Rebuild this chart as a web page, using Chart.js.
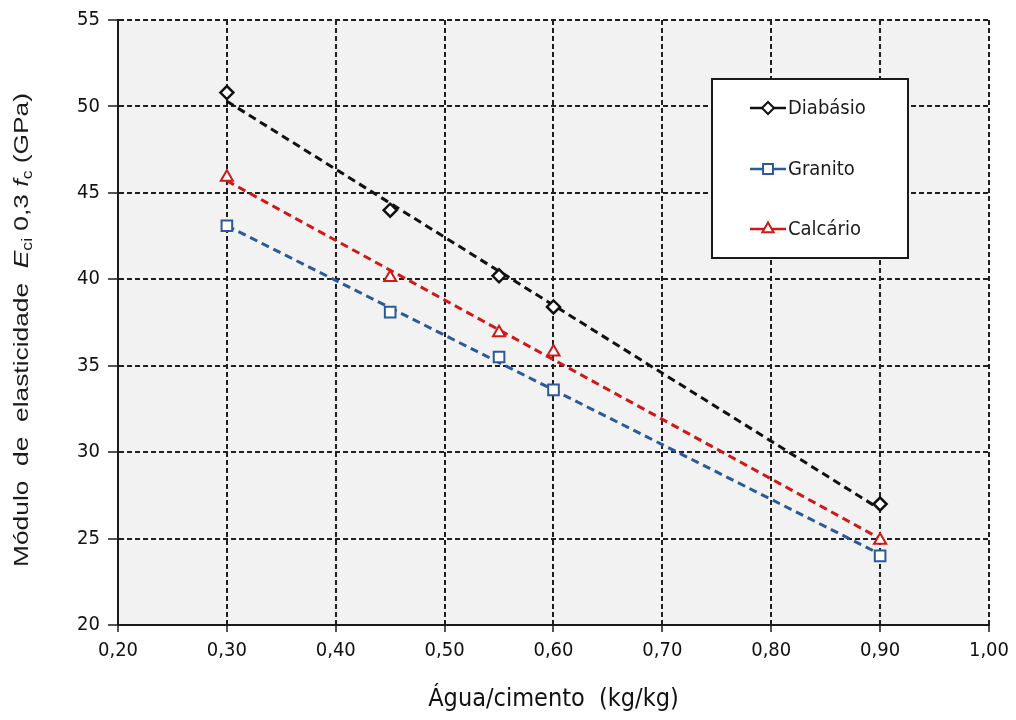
<!DOCTYPE html>
<html>
<head>
<meta charset="utf-8">
<script src="https://cdn.jsdelivr.net/npm/chart.js@4.4.0/dist/chart.umd.min.js"></script>
<style>
  html, body { margin: 0; padding: 0; background: #ffffff; }
  #wrap { width: 1016px; height: 720px; }
</style>
</head>
<body>
<div id="wrap"><canvas id="c" width="1016" height="720"></canvas></div>
<script>
// Water/cement ratio (kg/kg) and measured elastic modulus (GPa) per aggregate
const ratios   = [0.30, 0.45, 0.55, 0.60, 0.90];
const diabasio = [50.8, 44.0, 40.2, 38.4, 27.0];
const granito  = [43.1, 38.1, 35.5, 33.6, 24.0];
const calcario = [45.9, 40.1, 36.9, 35.8, 24.9];

// Linear trend lines, start and end values
const trendX        = [0.30, 0.90];
const diabasioTrend = [50.3, 26.7];
const granitoTrend  = [43.1, 24.1];
const calcarioTrend = [45.7, 25.0];

const seriesNames = ['Diabásio', 'Granito', 'Calcário'];

const xTickValues = [0.20, 0.30, 0.40, 0.50, 0.60, 0.70, 0.80, 0.90, 1.00];
const xTickLabels = ['0,20', '0,30', '0,40', '0,50', '0,60', '0,70', '0,80', '0,90', '1,00'];
const yTickValues = [20, 25, 30, 35, 40, 45, 50, 55];
const yTickLabels = ['20', '25', '30', '35', '40', '45', '50', '55'];

const xTitle = 'Água/cimento  (kg/kg)';
const yTitleParts = [
  { t: 'Módulo  de  elasticidade  ' },
  { t: 'E', italic: true },
  { t: 'ci', sub: true },
  { t: ' 0,3 ' },
  { t: 'f', italic: true },
  { t: 'c', sub: true },
  { t: ' (GPa)' }
];

const NARROW = "'Liberation Sans Narrow','DejaVu Sans Condensed',sans-serif";
const SANS = "'Liberation Sans',Arial,sans-serif";

const colors = { Diabásio: '#111111', Granito: '#2b5a9a', Calcário: '#d01818' };
const shapes = { Diabásio: 'rectRot', Granito: 'rect', Calcário: 'triangle' };
const radii  = { Diabásio: 6.5, Granito: 7.5, Calcário: 7 };

const pts = (xs, ys) => xs.map((x, i) => ({ x: x, y: ys[i] }));

function markerSet(name, ys) {
  return {
    label: name,
    data: pts(ratios, ys),
    showLine: false,
    pointStyle: shapes[name],
    pointRadius: radii[name],
    pointBorderWidth: name === 'Diabásio' ? 2.5 : 2,
    pointBorderColor: colors[name],
    pointBackgroundColor: '#ffffff',
    borderColor: colors[name],
    order: 0
  };
}
function trendSet(name, ys) {
  return {
    label: name + ' (tendência)',
    data: pts(trendX, ys),
    showLine: true,
    borderColor: colors[name],
    borderWidth: 3,
    borderDash: [8, 5],
    pointRadius: 0,
    order: 1
  };
}

// Light grey plot area
const plotBackground = {
  id: 'plotBackground',
  beforeDraw(chart) {
    const { ctx, chartArea: a } = chart;
    ctx.save();
    ctx.fillStyle = '#f2f2f2';
    ctx.fillRect(a.left, a.top, a.right - a.left, a.bottom - a.top);
    ctx.restore();
  }
};

// Rotated y-axis title with italic symbols and subscripts, spread along its length
const yAxisTitle = {
  id: 'yAxisTitle',
  afterDraw(chart) {
    const ctx = chart.ctx;
    const size = 21, subSize = 14, length = 474;
    const fontOf = p => (p.italic ? 'italic ' : '') + (p.sub ? subSize : size) + 'px ' + SANS;
    ctx.save();
    let total = 0;
    yTitleParts.forEach(p => { ctx.font = fontOf(p); total += ctx.measureText(p.t).width; });
    ctx.translate(20, 330);
    ctx.rotate(-Math.PI / 2);
    ctx.scale(length / total, 1);
    ctx.fillStyle = '#1a1a1a';
    ctx.textBaseline = 'alphabetic';
    ctx.textAlign = 'left';
    let x = -total / 2;
    yTitleParts.forEach(p => {
      ctx.font = fontOf(p);
      ctx.fillText(p.t, x, p.sub ? 12 : 8);
      x += ctx.measureText(p.t).width;
    });
    ctx.restore();
  }
};

// Boxed legend inside the plot area
const boxLegend = {
  id: 'boxLegend',
  afterDatasetsDraw(chart) {
    const ctx = chart.ctx;
    const box = { x: 712, y: 79, w: 196, h: 179 };
    ctx.save();
    ctx.fillStyle = '#ffffff';
    ctx.fillRect(box.x, box.y, box.w, box.h);
    ctx.lineWidth = 2;
    ctx.strokeStyle = '#1a1a1a';
    ctx.strokeRect(box.x, box.y, box.w, box.h);
    const rows = [108, 169, 229];
    seriesNames.forEach((name, i) => {
      const y = rows[i];
      ctx.strokeStyle = colors[name];
      ctx.lineWidth = 2.5;
      ctx.setLineDash([]);
      ctx.beginPath();
      ctx.moveTo(750, y);
      ctx.lineTo(786, y);
      ctx.stroke();
      ctx.fillStyle = '#ffffff';
      ctx.lineWidth = 2;
      Chart.helpers.drawPoint(ctx, {
        pointStyle: shapes[name], rotation: 0, borderWidth: 2, radius: radii[name] - 0.5
      }, 768, y);
      ctx.fillStyle = '#1a1a1a';
      ctx.font = '20px ' + NARROW;
      ctx.textBaseline = 'middle';
      ctx.textAlign = 'left';
      ctx.fillText(name, 788, y + 1);
    });
    ctx.restore();
  }
};

new Chart(document.getElementById('c'), {
  type: 'scatter',
  data: {
    datasets: [
      markerSet('Diabásio', diabasio),
      markerSet('Granito', granito),
      markerSet('Calcário', calcario),
      trendSet('Diabásio', diabasioTrend),
      trendSet('Granito', granitoTrend),
      trendSet('Calcário', calcarioTrend)
    ]
  },
  options: {
    responsive: false,
    animation: false,
    devicePixelRatio: 1,
    layout: { padding: { left: 0, right: 26, top: 20, bottom: 0 } },
    plugins: {
      legend: { display: false },
      tooltip: { enabled: false }
    },
    scales: {
      x: {
        type: 'linear',
        min: 0.2, max: 1.0,
        afterBuildTicks: s => { s.ticks = xTickValues.map(v => ({ value: v })); },
        afterFit: s => { s.height = 95; },
        ticks: {
          callback: (v, i) => xTickLabels[i],
          font: { family: NARROW, size: 20 },
          color: '#111111',
          padding: 7,
          maxRotation: 0
        },
        grid: {
          color: '#1f1f1f', lineWidth: 2, tickLength: 7,
          tickColor: '#1a1a1a', tickWidth: 1.5, tickBorderDash: []
        },
        border: { display: true, color: '#1a1a1a', width: 2, dash: [5, 3] },
        title: {
          display: true, text: xTitle,
          font: { family: NARROW, size: 25 },
          color: '#111111',
          padding: { top: 0, bottom: 6 }
        }
      },
      y: {
        type: 'linear',
        min: 20, max: 55,
        afterBuildTicks: s => { s.ticks = yTickValues.map(v => ({ value: v })); },
        afterFit: s => { s.width = 118; },
        ticks: {
          callback: (v, i) => yTickLabels[i],
          font: { family: NARROW, size: 20 },
          color: '#111111',
          padding: 8
        },
        grid: {
          color: '#1f1f1f', lineWidth: 2, tickLength: 10,
          tickColor: '#1a1a1a', tickWidth: 1.5, tickBorderDash: []
        },
        border: { display: true, color: '#1a1a1a', width: 2, dash: [5, 3] }
      }
    }
  },
  plugins: [plotBackground, yAxisTitle, boxLegend]
});
</script>
</body>
</html>
